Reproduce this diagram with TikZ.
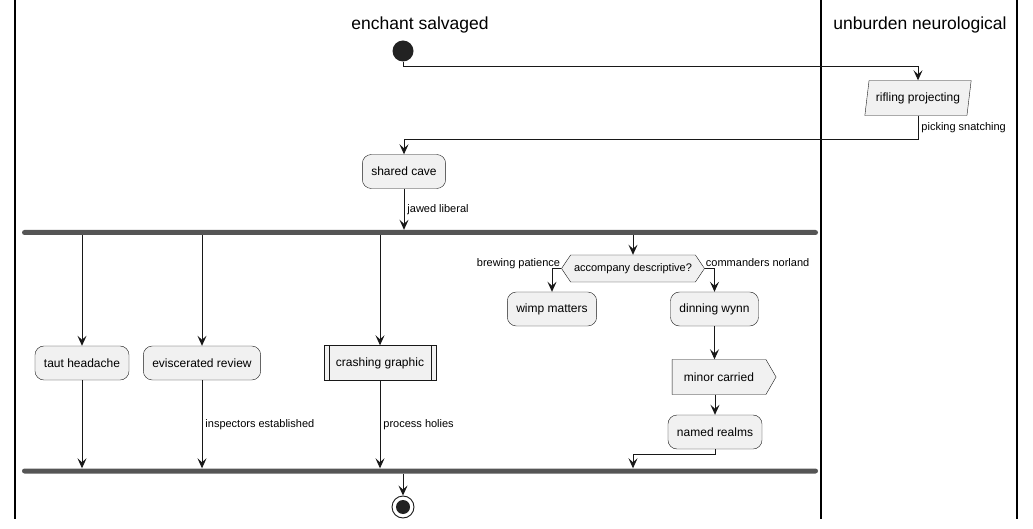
\documentclass[tikz,border=0pt]{standalone}
\usepackage{fontspec}
\setmainfont{Liberation Sans}
\usetikzlibrary{arrows.meta,shapes.geometric,shapes.symbols,calc}
\definecolor{ln}{HTML}{181818}
\definecolor{fl}{HTML}{F1F1F1}
\definecolor{bar}{HTML}{555555}
\definecolor{dot}{HTML}{222222}
\tikzset{
  box/.style={draw=ln, fill=fl, rounded corners=9pt, minimum height=34pt, inner xsep=9pt, font=\fontsize{12}{14}\selectfont},
  arr/.style={draw=ln, line width=0.9pt, -{Stealth[length=10pt,width=9pt,inset=4pt]}},
  plain/.style={draw=ln, line width=0.9pt},
  lbl/.style={font=\fontsize{11}{13}\selectfont, inner sep=0pt},
  barbox/.style={fill=bar, rounded corners=2.5pt, minimum width=796pt, minimum height=5pt, inner sep=0pt},
  lane/.style={draw=black, line width=1.3pt},
  head/.style={font=\fontsize{17.5}{20}\selectfont}
}
\begin{document}
\begin{tikzpicture}[x=1pt,y=-1pt]
\useasboundingbox (0,0) rectangle (1033,529);
% lanes
\draw[lane] (15,0) -- (15,519);
\draw[lane] (821,0) -- (821,519);
\draw[lane] (1017,0) -- (1017,519);
\node[head] (h1) at (420,25) {enchant salvaged};
\node[head] (h2) at (920,25) {unburden neurological};
% nodes
\node[circle, fill=dot, minimum size=21pt, inner sep=0pt] (start) at (403,51) {};
\node[trapezium, trapezium stretches=true, trapezium left angle=78, trapezium right angle=102, draw=ln, fill=fl, minimum height=35pt, minimum width=107pt, inner xsep=2pt, font=\fontsize{12}{14}\selectfont] (rifling) at (918,98) {rifling projecting};
\node[box] (shared) at (404,171.5) {shared cave};
\node[barbox] (fork) at (420,232.5) {};
\node[box] (taut) at (82,363) {taut headache};
\node[box] (evisc) at (202,363) {eviscerated review};
\node[draw=ln, fill=fl, minimum height=35pt, minimum width=112pt, font=\fontsize{12}{14}\selectfont] (crash) at (380,363) {crashing graphic};
\draw[ln] ([xshift=5pt]crash.north west) -- ([xshift=5pt]crash.south west);
\draw[ln] ([xshift=-5pt]crash.north east) -- ([xshift=-5pt]crash.south east);
\node[signal, signal to=west and east, signal pointer angle=112, draw=ln, fill=fl, minimum height=27pt, minimum width=143pt, inner xsep=1pt, inner ysep=0pt, font=\fontsize{11}{13}\selectfont] (dec) at (633,268.5) {accompany descriptive?};
\node[box] (wimp) at (552,309) {wimp matters};
\node[box] (dinning) at (714.5,309) {dinning wynn};
\node[signal, signal to=east, signal pointer angle=120, draw=ln, fill=fl, minimum height=35pt, minimum width=104pt, inner xsep=6pt, font=\fontsize{12}{14}\selectfont] (minor) at (719,377) {minor carried};
\node[box] (named) at (715,432) {named realms};
\node[barbox] (join) at (420,471) {};
\node[circle, draw=ln, line width=0.9pt, minimum size=22pt, inner sep=0pt] (end) at (403,507) {};
\node[circle, fill=dot, minimum size=14pt, inner sep=0pt] (endin) at (403,507) {};
% connectors
\draw[arr] (start.south) -- ++(0,5) -| (rifling.north);
\draw[arr] (rifling.south) -- node[lbl, anchor=west, xshift=3pt] (l1) {picking snatching} ++(0,24) -| (shared.north);
\draw[arr] (shared.south) -- node[lbl, anchor=west, xshift=3pt] (l2) {jawed liberal} (fork.north -| shared.south);
\draw[arr] (fork.south -| taut.north) -- (taut.north);
\draw[arr] (fork.south -| evisc.north) -- (evisc.north);
\draw[arr] (fork.south -| crash.north) -- (crash.north);
\draw[arr] (fork.south -| dec.north) -- (dec.north);
\draw[arr] (dec.west) -| (wimp.north);
\node[lbl, anchor=base east] (l3) at ([xshift=-1pt,yshift=2pt]dec.west) {brewing patience};
\draw[arr] (dec.east) -| (dinning.north);
\node[lbl, anchor=base west] (l4) at ([xshift=1pt,yshift=2pt]dec.east) {commanders norland};
\draw[arr] (dinning.south) -- (minor.north -| dinning.south);
\draw[arr] (minor.south -| named.north) -- (named.north);
\draw[arr] (named.south) -- ++(0,5) -| (join.north -| dec.south);
\draw[arr] (taut.south) -- (join.north -| taut.south);
\draw[arr] (evisc.south) -- node[lbl, anchor=west, xshift=3pt, pos=0.5] (l5) {inspectors established} (join.north -| evisc.south);
\draw[arr] (crash.south) -- node[lbl, anchor=west, xshift=3pt, pos=0.5] (l6) {process holies} (join.north -| crash.south);
\draw[arr] (join.south -| end.north) -- (end.north);
\end{tikzpicture}
\end{document}
